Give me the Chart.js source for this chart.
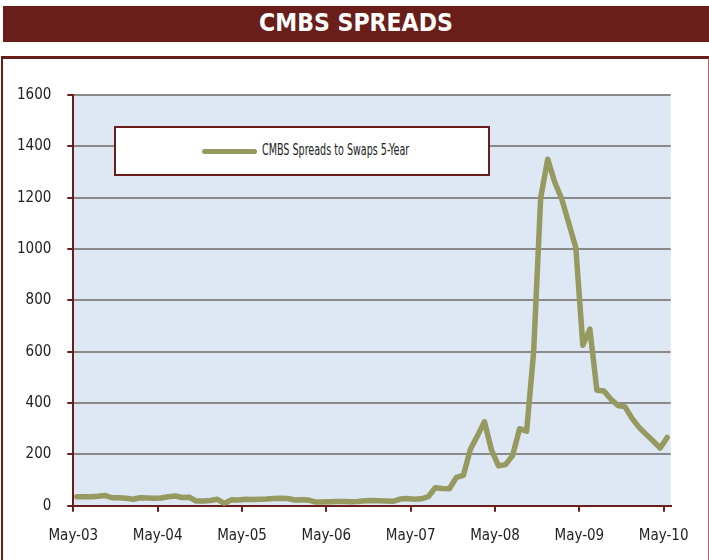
<!DOCTYPE html>
<html>
<head>
<meta charset="utf-8">
<script src="https://cdn.jsdelivr.net/npm/chart.js@4/dist/chart.umd.min.js"></script>
<style>
html,body{margin:0;padding:0;background:#fff;}
#wrap{position:relative;width:709px;height:560px;overflow:hidden;}
#title{position:absolute;left:3px;top:6px;width:706px;height:36px;background:#6a1e1a;color:#fff;
  font:bold 24.5px "DejaVu Sans Condensed","Liberation Sans Narrow","Liberation Sans",sans-serif;
  text-align:center;line-height:33px;}
#frame{position:absolute;left:1px;top:56px;width:705px;height:520px;border-top:3px solid #6a1e1a;
  border-left:2px solid #6a1e1a;border-right:2px solid #a86a6a;}
#chart{position:absolute;left:0;top:0;width:709px;height:560px;}
#legend{position:absolute;left:114px;top:126px;width:372px;height:46px;border:2px solid #6a1e1a;background:#fff;}
#legline{position:absolute;left:86px;top:21px;width:55px;height:5px;border-radius:3px;background:#979a60;}
#legtext{position:absolute;left:146px;top:13px;line-height:20px;white-space:nowrap;color:#222;
  font:15px "DejaVu Sans Condensed","Liberation Sans Narrow","Liberation Sans",sans-serif;
  transform:scaleX(0.71);transform-origin:left center;}
</style>
</head>
<body>
<div id="wrap">
  <div id="title">CMBS SPREADS</div>
  <div id="frame"></div>
  <canvas id="chart" width="709" height="560"></canvas>
  <div id="legend"><div id="legline"></div><div id="legtext"></div></div>
</div>
<script>
const chartTitle = "CMBS SPREADS";
const seriesLabel = "CMBS Spreads to Swaps 5-Year";
const tickLabels = ["May-03","May-04","May-05","May-06","May-07","May-08","May-09","May-10"];
// monthly values, May-03 .. May-10 (85 months)
const spreads = [
  35,35,35,37,40,31,31,29,25,31,30,29,
  30,35,38,32,33,18,18,20,25,9,23,22,
  25,24,25,26,28,29,28,22,23,22,14,14,
  15,16,16,15,16,19,20,19,18,17,26,28,
  25,27,35,70,67,66,110,118,220,272,327,217,
  155,160,195,300,290,600,1200,1350,1260,1195,1100,1005,
  625,688,450,447,415,390,385,340,305,278,252,225,266
];
const yTicks = [0,200,400,600,800,1000,1200,1400,1600];

document.getElementById('title').textContent = chartTitle;
document.getElementById('legtext').textContent = seriesLabel;

const DARK = '#6a1e1a';
const FONT = '"DejaVu Sans Condensed","Liberation Sans Narrow","Liberation Sans",sans-serif';
Chart.defaults.font.family = FONT;

const bgPlugin = {
  id: 'plotBg',
  beforeDraw(chart) {
    const a = chart.chartArea, c = chart.ctx;
    c.save();
    c.fillStyle = '#dde8f4';
    c.fillRect(a.left, a.top, a.right - a.left, a.bottom - a.top);
    c.restore();
  }
};

new Chart(document.getElementById('chart'), {
  type: 'line',
  data: {
    datasets: [{
      label: seriesLabel,
      data: spreads.map((v, i) => ({x: i + 0.5, y: v})),
      borderColor: '#979a60',
      borderWidth: 5.5,
      pointRadius: 0,
      tension: 0,
      borderJoinStyle: 'round',
      borderCapStyle: 'round',
      fill: false
    }]
  },
  options: {
    responsive: false,
    animation: false,
    layout: {padding: {top: 95, right: 38.3, left: 0, bottom: 0}},
    plugins: {legend: {display: false}, tooltip: {enabled: false}, title: {display: false}},
    scales: {
      x: {
        type: 'linear',
        min: 0,
        max: 85,
        afterBuildTicks: s => { s.ticks = tickLabels.map((_, k) => ({value: k * 12})); },
        afterFit: s => { s.height = 54.3; },
        ticks: {
          autoSkip: false, maxRotation: 0, minRotation: 0,
          callback: v => tickLabels[Math.round(v / 12)],
          font: {size: 15}, color: '#222', padding: 15
        },
        grid: {display: true, drawOnChartArea: false, drawTicks: true, tickLength: 6,
               tickColor: DARK, tickWidth: 2, lineWidth: 2},
        border: {display: true, color: DARK, width: 2}
      },
      y: {
        min: 0,
        max: 1600,
        afterBuildTicks: s => { s.ticks = yTicks.map(v => ({value: v})); },
        afterFit: s => { s.width = 73.3; },
        ticks: {callback: v => String(v), font: {size: 15}, color: '#222', padding: 16},
        grid: {color: '#8a8a8a', lineWidth: 2, tickColor: DARK, tickWidth: 2, tickLength: 6, drawTicks: true},
        border: {display: true, color: DARK, width: 2}
      }
    }
  },
  plugins: [bgPlugin]
});
</script>
</body>
</html>
